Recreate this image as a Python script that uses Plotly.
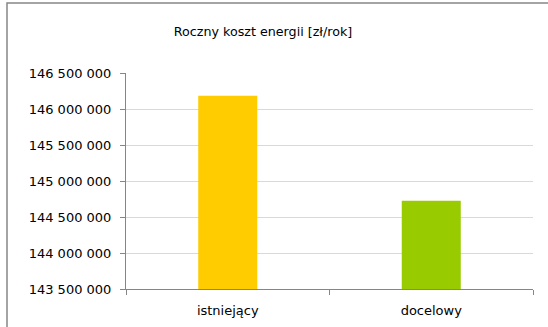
import plotly.graph_objects as go

# Annual energy cost per variant [PLN/year]
categories = ["istniejący", "docelowy"]
costs = [146185000, 144726000]
bar_colors = ["#FFCC00", "#99CC00"]
y_ticks = [143500000, 144000000, 144500000, 145000000, 145500000, 146000000, 146500000]

W, H = 548, 327
L, R, T, B = 126, 15, 73, 38

fig = go.Figure(
    go.Bar(
        x=categories,
        y=costs,
        marker=dict(color=bar_colors, line=dict(width=0)),
        width=0.29,
    )
)

axis_gray = "#868686"
font = dict(family="DejaVu Sans", size=13, color="#000000")

fig.update_layout(
    width=W,
    height=H,
    margin=dict(l=L, r=R, t=T, b=B, autoexpand=False),
    paper_bgcolor="white",
    plot_bgcolor="white",
    separators=", ",
    font=font,
    showlegend=False,
    title=dict(
        text="Roczny koszt energii [zł/rok]",
        x=263 / W,
        xanchor="center",
        xref="container",
        y=1 - 32 / H,
        yanchor="middle",
        yref="container",
        font=dict(family="DejaVu Sans", size=12.7, color="#000000"),
    ),
    xaxis=dict(
        automargin=False,
        showline=True,
        linecolor=axis_gray,
        linewidth=1,
        ticks="outside",
        tickson="boundaries",
        ticklen=5,
        tickcolor=axis_gray,
        showgrid=False,
        ticklabelstandoff=9,
    ),
    yaxis=dict(
        automargin=False,
        range=[y_ticks[0], y_ticks[-1]],
        tickvals=y_ticks,
        tickformat=",d",
        showline=True,
        linecolor=axis_gray,
        linewidth=1,
        ticks="outside",
        ticklen=5,
        tickcolor=axis_gray,
        showgrid=True,
        gridcolor="#D9D9D9",
        gridwidth=1,
        zeroline=False,
        ticklabelstandoff=6,
    ),
)

# Chart frame (open on the right and bottom)
pw, ph = W - L - R, H - T - B
fig.add_shape(
    type="rect",
    xref="paper",
    yref="paper",
    x0=(7 - L) / pw,
    x1=(W + 5 - L) / pw,
    y0=(H - B - (H + 5)) / ph,
    y1=(H - B - 3) / ph,
    line=dict(color=axis_gray, width=1.5),
    fillcolor="rgba(0,0,0,0)",
    layer="below",
)

fig.write_html("out.html")
